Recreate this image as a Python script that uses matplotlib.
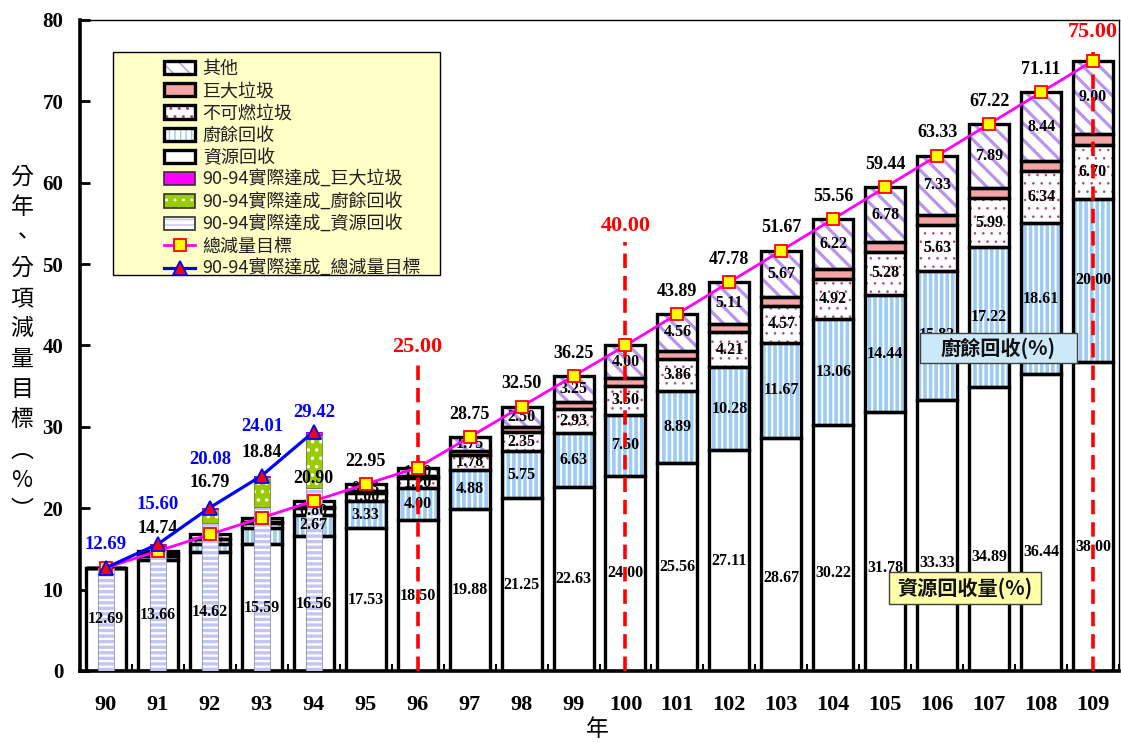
import matplotlib
matplotlib.use("Agg")
import matplotlib.pyplot as plt
import numpy as np
from matplotlib.patches import Patch, Rectangle
from matplotlib.lines import Line2D
from matplotlib.legend_handler import HandlerTuple

# ---------------- data ----------------
years = [str(y) for y in range(90, 110)]
resource = [12.69, 13.66, 14.62, 15.59, 16.56, 17.53, 18.50, 19.88, 21.25, 22.63,
            24.00, 25.56, 27.11, 28.67, 30.22, 31.78, 33.33, 34.89, 36.44, 38.00]
kitchen = [0.00, 0.50, 1.00, 2.00, 2.67, 3.33, 4.00, 4.88, 5.75, 6.63,
           7.50, 8.89, 10.28, 11.67, 13.06, 14.44, 15.83, 17.22, 18.61, 20.00]
noncomb = [0.00, 0.28, 0.55, 0.60, 0.80, 1.00, 1.20, 1.78, 2.35, 2.93,
           3.50, 3.86, 4.21, 4.57, 4.92, 5.28, 5.63, 5.99, 6.34, 6.70]
bulky = [0.00, 0.05, 0.10, 0.10, 0.15, 0.26, 0.30, 0.46, 0.65, 0.81,
         1.00, 1.02, 1.07, 1.09, 1.14, 1.16, 1.21, 1.23, 1.28, 1.30]
others = [0.00, 0.25, 0.52, 0.55, 0.72, 0.83, 1.00, 1.75, 2.50, 3.25,
          4.00, 4.56, 5.11, 5.67, 6.22, 6.78, 7.33, 7.89, 8.44, 9.00]
total_target = [12.69, 14.74, 16.79, 18.84, 20.90, 22.95, 25.00, 28.75, 32.50, 36.25,
                40.00, 43.89, 47.78, 51.67, 55.56, 59.44, 63.33, 67.22, 71.11, 75.00]

act_years = ["90", "91", "92", "93", "94"]
act_resource = [12.69, 15.40, 18.20, 20.15, 22.50]
act_kitchen = [0.00, 0.00, 1.70, 3.70, 6.52]
act_bulky = [0.00, 0.20, 0.18, 0.16, 0.40]
act_total = [12.69, 15.60, 20.08, 24.01, 29.42]

milestone_years = ["96", "100", "109"]

legend_labels = ["其他", "巨大垃圾", "不可燃垃圾", "廚餘回收", "資源回收",
                 "90-94實際達成_巨大垃圾", "90-94實際達成_廚餘回收", "90-94實際達成_資源回收",
                 "總減量目標", "90-94實際達成_總減量目標"]
ylabel_text = "分年、分項減量目標︵%︶"

# ---------------- layout / style ----------------
W, H = 1121, 743
fig = plt.figure(figsize=(W / 100, H / 100), dpi=100)
ax = fig.add_axes([80 / W, 1 - 671 / H, (1119 - 80) / W, (671 - 20) / H])

SERIF = "Liberation Serif"
CJK = ["Noto Sans CJK TC", "DejaVu Sans"]

x = np.arange(len(years))
xa = np.arange(len(act_years))
WIDE = 0.77
NARROW = 0.31

C_KITCHEN = "#9ccbf4"
C_OTHER = "#b894ee"
C_DOT = "#b8407e"
C_BULKY = "#f4a4a4"
C_ACT_RES = "#c4c4f4"
C_ACT_KIT = "#99cc00"
C_ACT_BULKY = "#ff00ff"

HLW_KIT, HLW_OTH, HLW_DOT, HLW_RES, HLW_GRN = 2.6, 2.3, 0.6, 2.4, 1.3
H_OTH, H_DOT = "\\\\", ".."


def hatched_bar(xs, h, bottom, width, face, hatch, hcolor, hlw, z, edge=None, elw=0.0):
    with plt.rc_context({"hatch.linewidth": hlw}):
        bars = ax.bar(xs, h, width, bottom=bottom, color=face, hatch=hatch,
                      edgecolor=hcolor, linewidth=0, zorder=z)
    for p in bars:
        if hasattr(p, "set_hatch_linewidth"):
            p.set_hatch_linewidth(hlw)
    if edge is not None:
        ax.bar(xs, h, width, bottom=bottom, fill=False, edgecolor=edge,
               linewidth=elw, zorder=z + 0.1)
    return bars


# planned stacks
b0 = np.zeros(len(years))
b1 = b0 + np.array(resource)
b2 = b1 + np.array(kitchen)
b3 = b2 + np.array(noncomb)
b4 = b3 + np.array(bulky)
EL = 2.4
hatched_bar(x, resource, b0, WIDE, "white", None, "white", 1, 2, "black", EL)
hatched_bar(x, kitchen, b1, WIDE, "white", "|||", C_KITCHEN, HLW_KIT, 2, "black", EL)
hatched_bar(x, noncomb, b2, WIDE, "white", H_DOT, C_DOT, HLW_DOT, 2, "black", EL)
hatched_bar(x, bulky, b3, WIDE, C_BULKY, None, C_BULKY, 1, 2, "black", EL)
hatched_bar(x, others, b4, WIDE, "white", H_OTH, C_OTHER, HLW_OTH, 2, "black", EL)

# actual (90-94) narrow bars
a1 = np.array(act_resource)
a2 = a1 + np.array(act_kitchen)
hatched_bar(xa, act_resource, 0, NARROW, "white", "---", C_ACT_RES, HLW_RES, 3, "#9090b0", 0.6)
hatched_bar(xa, act_kitchen, a1, NARROW, C_ACT_KIT, "..", "white", HLW_GRN, 3, "#708040", 0.6)
hatched_bar(xa, act_bulky, a2, NARROW, C_ACT_BULKY, None, C_ACT_BULKY, 1, 3, "#a000a0", 0.6)

# lines
ax.plot(x, total_target, color="#ff00ff", lw=2.0, marker="s", ms=8.5,
        mfc="#ffff00", mec="#ff0000", mew=1.3, zorder=7)
ax.plot(xa, act_total, color="#0000ff", lw=2.3, marker="^", ms=10.5,
        mfc="#ff0000", mec="#0000ff", mew=1.3, zorder=8)

# segment labels
lab_kw = dict(ha="center", va="center", fontfamily=SERIF, fontweight="bold",
              fontsize=11.5, color="black", zorder=5)
for i in range(len(years)):
    v = resource[i]
    yy = v * 0.5 if v < 28 else v * 0.4
    ax.text(x[i], yy, f"{v:.2f}", **lab_kw)
    if i >= 4:
        ax.text(x[i], b1[i] + kitchen[i] / 2, f"{kitchen[i]:.2f}", **lab_kw)
        ax.text(x[i], b2[i] + noncomb[i] / 2, f"{noncomb[i]:.2f}", **lab_kw)
    if i >= 5:
        ax.text(x[i], b4[i] + others[i] / 2, f"{others[i]:.2f}", **lab_kw)

# total labels
tot_dy = {2: 6.4, 3: 8.0}
for i in range(1, len(years)):
    if years[i] in milestone_years:
        continue
    ax.text(x[i], total_target[i] + tot_dy.get(i, 2.8), f"{total_target[i]:.2f}",
            ha="center", va="center", fontfamily=SERIF, fontweight="bold",
            fontsize=13, color="black", zorder=6)

act_dy = [2.8, 4.8, 5.9, 6.0, 2.4]
for i in range(len(act_years)):
    ax.text(xa[i], act_total[i] + act_dy[i], f"{act_total[i]:.2f}",
            ha="center", va="center", fontfamily=SERIF, fontweight="bold",
            fontsize=13.5, color="#0000ff", zorder=9)

# milestone dashed lines + red labels
red_label_y = [39.8, 54.7, 78.5]
for yr, ly in zip(milestone_years, red_label_y):
    i = years.index(yr)
    ax.vlines(x[i], 0, ly - 2.0, colors="#ff0000", linestyles=(0, (4, 2.2)),
              lw=2.6, zorder=6.5)
    ax.text(x[i], ly, f"{total_target[i]:.2f}", ha="center", va="center",
            fontfamily=SERIF, fontweight="bold", fontsize=16, color="#ff0000",
            zorder=9)

# axes styling
ax.set_xlim(-0.46, 19.42)
ax.set_ylim(0, 80)
ax.set_yticks(np.arange(0, 81, 10))
ax.set_xticks(x)
ax.set_xticklabels(years)
ax.set_xticks(np.arange(-0.5, len(years), 1.0), minor=True)
ax.tick_params(axis="x", which="major", length=0, pad=17)
ax.tick_params(axis="x", which="minor", direction="in", length=5, width=1.5)
ax.tick_params(axis="y", which="major", direction="in", length=7, width=2, pad=12)
for lab in ax.get_xticklabels() + ax.get_yticklabels():
    lab.set_fontfamily(SERIF)
    lab.set_fontweight("bold")
for lab in ax.get_xticklabels():
    lab.set_fontsize(16)
for lab in ax.get_yticklabels():
    lab.set_fontsize(15)
ax.spines["left"].set_linewidth(2.6)
ax.spines["bottom"].set_linewidth(2.6)
ax.spines["top"].set_linewidth(1.0)
ax.spines["right"].set_linewidth(1.0)

# y label, stacked vertical characters
chars = list(ylabel_text)
ytop, ybot = 177, 511
for k, ch in enumerate(chars):
    yy = ytop + (ybot - ytop) * k / (len(chars) - 1)
    fig.text(22 / W, 1 - yy / H, ch, ha="center", va="center",
             fontfamily=CJK, fontsize=16.5)

fig.text(597 / W, 1 - 730 / H, "年", ha="center", va="center",
         fontfamily=CJK, fontsize=16.5)

# legend
ax.add_patch(Rectangle((33 / 1039, (671 - 275) / 651), (440 - 113) / 1039, (275 - 52) / 651,
                       transform=ax.transAxes, facecolor="#ffffc6", edgecolor="black",
                       lw=1.0, zorder=10))


def tuple_patch(face, hatch, hcolor, hlw, edge="black", elw=2.4):
    with plt.rc_context({"hatch.linewidth": hlw}):
        p1 = Patch(facecolor=face, hatch=hatch, edgecolor=hcolor, linewidth=0)
    if hasattr(p1, "set_hatch_linewidth"):
        p1.set_hatch_linewidth(hlw)
    p2 = Patch(fill=False, edgecolor=edge, linewidth=elw)
    return (p1, p2)


handles = [
    tuple_patch("white", H_OTH, C_OTHER, HLW_OTH),
    tuple_patch(C_BULKY, None, C_BULKY, 1),
    tuple_patch("white", H_DOT, C_DOT, 1.0),
    tuple_patch("white", "|||", C_KITCHEN, HLW_KIT),
    tuple_patch("white", None, "white", 1),
    tuple_patch(C_ACT_BULKY, None, C_ACT_BULKY, 1, "#303030", 1.2),
    tuple_patch(C_ACT_KIT, "..", "white", HLW_GRN, "#303030", 1.2),
    tuple_patch("white", "---", C_ACT_RES, HLW_RES, "#303030", 1.2),
    Line2D([], [], color="#ff00ff", lw=2.0, marker="s", ms=8.5, mfc="#ffff00",
           mec="#ff0000", mew=1.3),
    Line2D([], [], color="#0000ff", lw=2.3, marker="^", ms=10, mfc="#ff0000",
           mec="#0000ff", mew=1.3),
]
leg = ax.legend(handles, legend_labels, loc="upper left",
                bbox_to_anchor=((162 - 80) / 1039, (671 - 58) / 651),
                frameon=False, prop={"family": CJK, "size": 13},
                handlelength=1.75, handleheight=0.75, handletextpad=0.4,
                labelspacing=0.235, borderpad=0.1, borderaxespad=0,
                handler_map={tuple: HandlerTuple(ndivide=1, pad=0)})
leg.set_zorder(11)
for t in leg.get_texts():
    t.set_color("#202020")

# annotation boxes
ax.add_patch(Rectangle((840 / 1039, (671 - 363) / 651), 157 / 1039, 30 / 651,
                       transform=ax.transAxes, facecolor="#cde8f8", edgecolor="#404040",
                       lw=1.0, zorder=10))
ax.text((998 - 80) / 1039, (671 - 348) / 651, "廚餘回收(%)", transform=ax.transAxes,
        ha="center", va="center", fontfamily=CJK, fontsize=14.5, fontweight="bold",
        color="#111111", zorder=11)
ax.add_patch(Rectangle((809 / 1039, (671 - 604) / 651), 152 / 1039, 32 / 651,
                       transform=ax.transAxes, facecolor="#ffffaa", edgecolor="#404040",
                       lw=1.0, zorder=10))
ax.text((965 - 80) / 1039, (671 - 588) / 651, "資源回收量(%)", transform=ax.transAxes,
        ha="center", va="center", fontfamily=CJK, fontsize=14.5, fontweight="bold",
        color="#111111", zorder=11)

fig.savefig("out.png", dpi=100)
